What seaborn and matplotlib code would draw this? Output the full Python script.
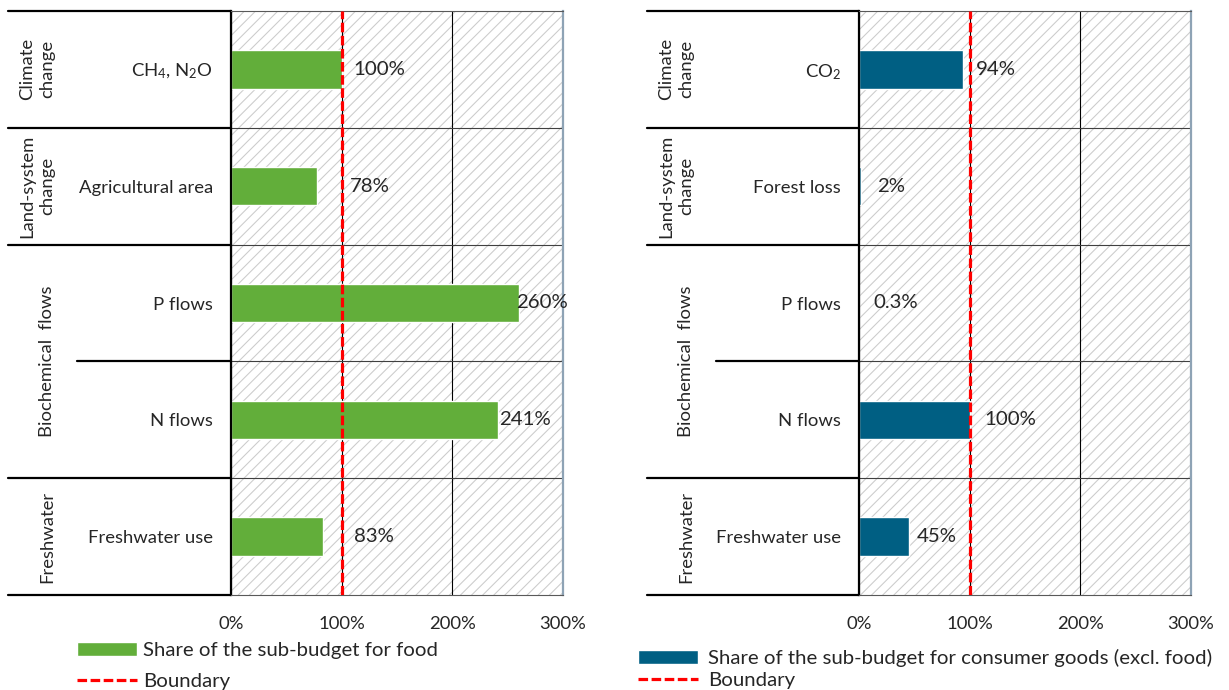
import matplotlib
matplotlib.use("Agg")
import matplotlib.pyplot as plt
import seaborn as sns
import pandas as pd
from matplotlib.patches import Patch, Rectangle
from matplotlib.lines import Line2D
from matplotlib.transforms import blended_transform_factory

# data
food_items = ["CH$_4$, N$_2$O", "Agricultural area", "P flows", "N flows", "Freshwater use"]
food_share = [100, 78, 260, 241, 83]
food_text = ["100%", "78%", "260%", "241%", "83%"]

goods_items = ["CO$_2$", "Forest loss", "P flows", "N flows", "Freshwater use"]
goods_share = [94, 2, 0.3, 100, 45]
goods_text = ["94%", "2%", "0.3%", "100%", "45%"]

groups = ["Climate\nchange", "Land-system\nchange", "Biochemical  flows", "Freshwater"]
group_centre = [0, 1, 2.5, 4]
ticks = [0, 100, 200, 300]
tick_text = ["0%", "100%", "200%", "300%"]
boundary = 100

# where the labels sit (in % units), picked by eye
food_lab_x = [111, 107, 258, 242, 111]
goods_lab_x = [106, 16, 13, 113, 52]

GREEN = "#62ae3a"
BLUE = "#005f83"
TXT = "#262626"

sns.set_style("white")
plt.rcParams["font.family"] = ["Lato", "DejaVu Sans"]
plt.rcParams["mathtext.default"] = "regular"
plt.rcParams["hatch.color"] = "#cbcbcb"
plt.rcParams["hatch.linewidth"] = 0.75
FS = 13.3      # categories, ticks, groups
FS_BIG = 14.7  # value labels and legend
DASH = (0, (3, 1.1))

W, H = 1229, 690
fig = plt.figure(figsize=(W / 100, H / 100), dpi=100)
fig.patch.set_facecolor("white")


def panel(left_px, items, shares, texts, lab_x, color, outer_px, inner_px, grp_px):
    ax = fig.add_axes([left_px / W, (H - 595) / H, 332 / W, 584 / H])
    ax.add_patch(Rectangle((0, 0), 1, 1, transform=ax.transAxes, facecolor="white",
                           edgecolor="#cbcbcb", hatch="///", lw=0, zorder=0.1))
    df = pd.DataFrame({"item": items, "share": shares})
    sns.barplot(data=df, x="share", y="item", orient="h", color=color, saturation=1,
                width=0.33, ax=ax, zorder=2)
    ax.set_xlim(0, 300)
    ax.set_ylim(4.5, -0.5)
    ax.set_xlabel("")
    ax.set_ylabel("")
    ax.set_xticks(ticks)
    ax.set_xticklabels(tick_text)
    ax.tick_params(axis="x", length=0, pad=15, labelsize=FS, labelcolor=TXT)
    ax.tick_params(axis="y", length=0, pad=13, labelsize=FS, labelcolor=TXT)
    ax.set_yticks([0.5, 1.5, 2.5, 3.5], minor=True)
    ax.tick_params(axis="y", which="minor", length=0)
    ax.grid(axis="x", which="major", color="black", lw=0.8, zorder=1)
    ax.grid(axis="y", which="minor", color="#404040", lw=0.8, zorder=1)
    ax.grid(axis="y", which="major", visible=False)
    ax.set_axisbelow(True)
    for side in ["top", "bottom"]:
        ax.spines[side].set_color("#595959")
        ax.spines[side].set_linewidth(0.8)
    ax.spines["left"].set_color("black")
    ax.spines["left"].set_linewidth(1.6)
    ax.spines["right"].set_color("#8ea3b5")
    ax.spines["right"].set_linewidth(1.6)

    ax.axvline(boundary, color="#ff0000", lw=2.3, ls=DASH, zorder=3)

    for y, (x, t) in enumerate(zip(lab_x, texts)):
        ax.text(x, y, t, ha="left", va="center", fontsize=FS_BIG, color=TXT, zorder=4)

    # table lines and group labels left of the plot
    tr = blended_transform_factory(ax.transAxes, ax.transData)
    fx = lambda px: (px - left_px) / 332
    for yb in [-0.5, 0.5, 1.5, 3.5, 4.5]:
        ax.add_line(Line2D([fx(outer_px), 0], [yb, yb], transform=tr, color="black",
                           lw=1.6, clip_on=False))
    ax.add_line(Line2D([fx(inner_px), 0], [2.5, 2.5], transform=tr, color="black",
                       lw=1.6, clip_on=False))
    for g, yc in zip(groups, group_centre):
        ax.text(fx(grp_px), yc, g, transform=tr, rotation=90, ha="right", va="center",
                fontsize=FS, color=TXT, linespacing=1.3, multialignment="center")
    return ax


ax1 = panel(231, food_items, food_share, food_text, food_lab_x, GREEN, 8, 77, 55)
ax2 = panel(859, goods_items, goods_share, goods_text, goods_lab_x, BLUE, 647, 716, 694)

bnd = Line2D([], [], color="#ff0000", lw=2.3, ls=DASH)
fig.legend([Patch(facecolor=GREEN), bnd], ["Share of the sub-budget for food", "Boundary"],
           loc="upper left", bbox_to_anchor=(77 / W, 1 - 642 / H), frameon=False,
           fontsize=FS_BIG, handlelength=2.95, handleheight=0.65, handletextpad=0.3,
           labelspacing=0.7, borderaxespad=0, borderpad=0, labelcolor=TXT)
fig.legend([Patch(facecolor=BLUE), bnd],
           ["Share of the sub-budget for consumer goods (excl. food)", "Boundary"],
           loc="upper left", bbox_to_anchor=(638 / W, 1 - 649 / H), frameon=False,
           fontsize=FS_BIG, handlelength=2.95, handleheight=0.65, handletextpad=0.5,
           labelspacing=0.22, borderaxespad=0, borderpad=0, labelcolor=TXT)

fig.savefig("out.png", dpi=100, facecolor="white")
